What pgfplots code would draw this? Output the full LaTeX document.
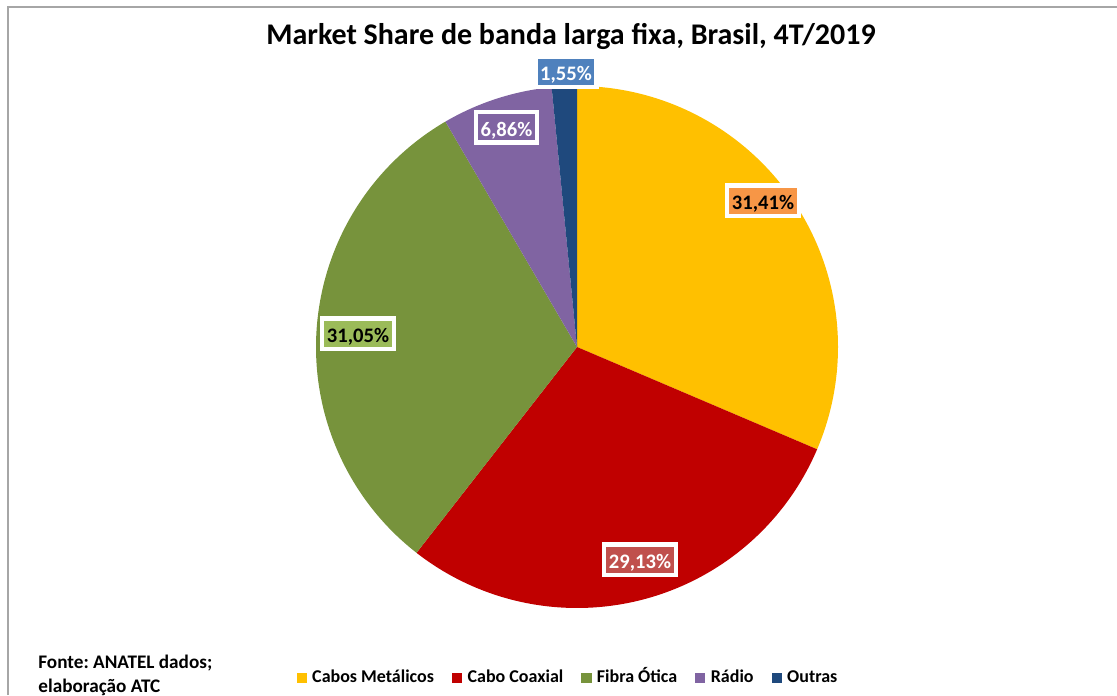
\documentclass[border=0pt]{standalone}
\usepackage{pgfplots}
\pgfplotsset{compat=1.18}
\usepackage{pgfplotstable}
\usepackage{fontspec}
\setmainfont{Carlito}
\frenchspacing

\definecolor{c0}{HTML}{FFC000}
\definecolor{c1}{HTML}{C00000}
\definecolor{c2}{HTML}{77933C}
\definecolor{c3}{HTML}{8064A2}
\definecolor{c4}{HTML}{1F497D}
\definecolor{l0}{HTML}{F79646}
\definecolor{l1}{HTML}{C0504D}
\definecolor{l2}{HTML}{9BBB59}
\definecolor{l3}{HTML}{8064A2}
\definecolor{l4}{HTML}{4F81BD}
\definecolor{frame}{HTML}{A6A6A6}

% Market share (%), 4T/2019
\pgfplotstableread{
idx value
0 31.41
1 29.13
2 31.05
3 6.86
4 1.55
}\piedata

\gdef\cum{0}
\foreach \i in {0,...,4}{%
  \pgfplotstablegetelem{\i}{value}\of\piedata
  \pgfmathsetmacro\sa{90-3.6*\cum}%
  \pgfmathsetmacro\newcum{\cum+\pgfplotsretval}%
  \pgfmathsetmacro\ea{90-3.6*\newcum}%
  \expandafter\xdef\csname pieS\i\endcsname{\sa}%
  \expandafter\xdef\csname pieE\i\endcsname{\ea}%
  \xdef\cum{\newcum}%
}

\tikzset{lab/.style={font=\bfseries\fontsize{10.3}{12}\selectfont, draw=white,
  line width=2.25pt, inner xsep=2.4pt, inner ysep=1pt, text height=11pt,
  text depth=2.25pt, anchor=center}}

\begin{document}
\begin{tikzpicture}
\begin{axis}[x=0.5pt, y=0.5pt, xmin=0, xmax=1117, ymin=0, ymax=695,
  hide axis, clip=false, anchor=south west, at={(0,0)},
  legend columns=5,
  legend image code/.code={\fill[#1] (0pt,-2.3pt) rectangle (4.6pt,2.3pt);
    \path (5.4pt,0pt);},
  legend style={draw=none, fill=none, at={(axis cs:569,17.5)}, anchor=center,
    font=\bfseries\fontsize{9}{10}\selectfont,
    nodes={text height=6.8pt, text depth=1.8pt},
    /tikz/every even column/.append style={column sep=7pt}},
]
\draw[frame, line width=1pt] (axis cs:7.5,0) -- (axis cs:7.5,687.5) -- (axis cs:1117,687.5);

\pgfplotsinvokeforeach{0,...,4}{%
  \fill[c#1] (axis cs:577,348) -- ++(\csname pieS#1\endcsname:130.5pt)
    arc[start angle=\csname pieS#1\endcsname, end angle=\csname pieE#1\endcsname, radius=130.5pt] -- cycle;
}

\addlegendimage{c0}\addlegendentry{Cabos Metálicos}
\addlegendimage{c1}\addlegendentry{Cabo Coaxial}
\addlegendimage{c2}\addlegendentry{Fibra Ótica}
\addlegendimage{c3}\addlegendentry{Rádio}
\addlegendimage{c4}\addlegendentry{Outras}

\node[lab, fill=l0, text=black] at (axis cs:763,494) {31,41\%};
\node[lab, fill=l1, text=white] at (axis cs:640,135) {29,13\%};
\node[lab, fill=l2, text=black] at (axis cs:358,361) {31,05\%};
\node[lab, fill=l3, text=white] at (axis cs:506.5,567.5) {6,86\%};
\node[lab, fill=l4, text=white] at (axis cs:566,623) {1,55\%};

\node[anchor=base, font=\bfseries\fontsize{15}{17}\selectfont, inner sep=0]
  at (axis cs:571,650) {Market Share de banda larga fixa, Brasil, 4T/2019};
\node[anchor=base west, font=\bfseries\fontsize{9.6}{11}\selectfont, inner sep=0]
  at (axis cs:38,26) {Fonte: ANATEL dados;};
\node[anchor=base west, font=\bfseries\fontsize{9.6}{11}\selectfont, inner sep=0]
  at (axis cs:38,3) {elaboração ATC};
\end{axis}
\pgfresetboundingbox
\path[use as bounding box] (0,0) rectangle (558.5pt,347.5pt);
\end{tikzpicture}
\end{document}
